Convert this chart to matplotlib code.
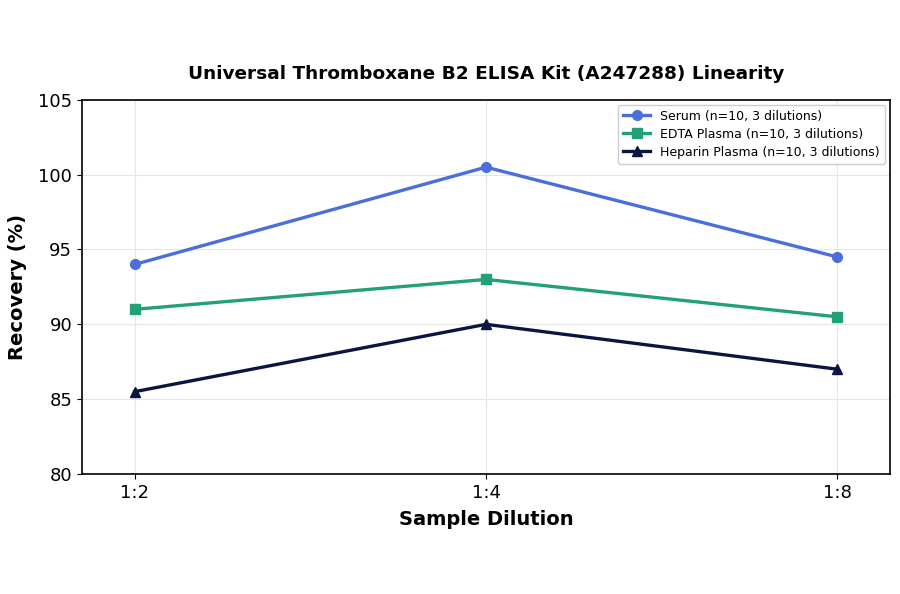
import matplotlib
matplotlib.use("Agg")
import matplotlib.pyplot as plt

# datos de la grafica
diluciones = ["1:2", "1:4", "1:8"]
serum = [94.0, 100.5, 94.5]
edta = [91.0, 93.0, 90.5]
heparina = [85.5, 90.0, 87.0]

fig = plt.figure(figsize=(9, 5.94), dpi=100)
ax = fig.add_axes([0.091, 0.202, 0.898, 0.630])

x = range(len(diluciones))
ax.plot(x, serum, color="#4a6fdc", lw=2.4, marker="o", ms=7,
        label="Serum (n=10, 3 dilutions)")
ax.plot(x, edta, color="#22a077", lw=2.4, marker="s", ms=7,
        label="EDTA Plasma (n=10, 3 dilutions)")
ax.plot(x, heparina, color="#0b1640", lw=2.4, marker="^", ms=7,
        label="Heparin Plasma (n=10, 3 dilutions)")

ax.set_xticks(list(x))
ax.set_xticklabels(diluciones)
ax.set_xlim(-0.15, 2.15)
ax.set_ylim(80, 105)
ax.set_yticks([80, 85, 90, 95, 100, 105])
ax.tick_params(labelsize=13)
ax.grid(True, color="#e6e6e6", lw=0.8)
ax.set_axisbelow(True)
for s in ax.spines.values():
    s.set_linewidth(1.2)

ax.set_xlabel("Sample Dilution", fontsize=14, fontweight="bold", labelpad=6)
ax.set_ylabel("Recovery (%)", fontsize=14, fontweight="bold", labelpad=8)
ax.set_title("Universal Thromboxane B2 ELISA Kit (A247288) Linearity",
             fontsize=13.3, fontweight="bold", pad=15)
ax.legend(loc="upper right", fontsize=9, framealpha=1, borderaxespad=0.4,
          handlelength=2.2, labelspacing=0.4)

fig.savefig("out.png", dpi=100)
